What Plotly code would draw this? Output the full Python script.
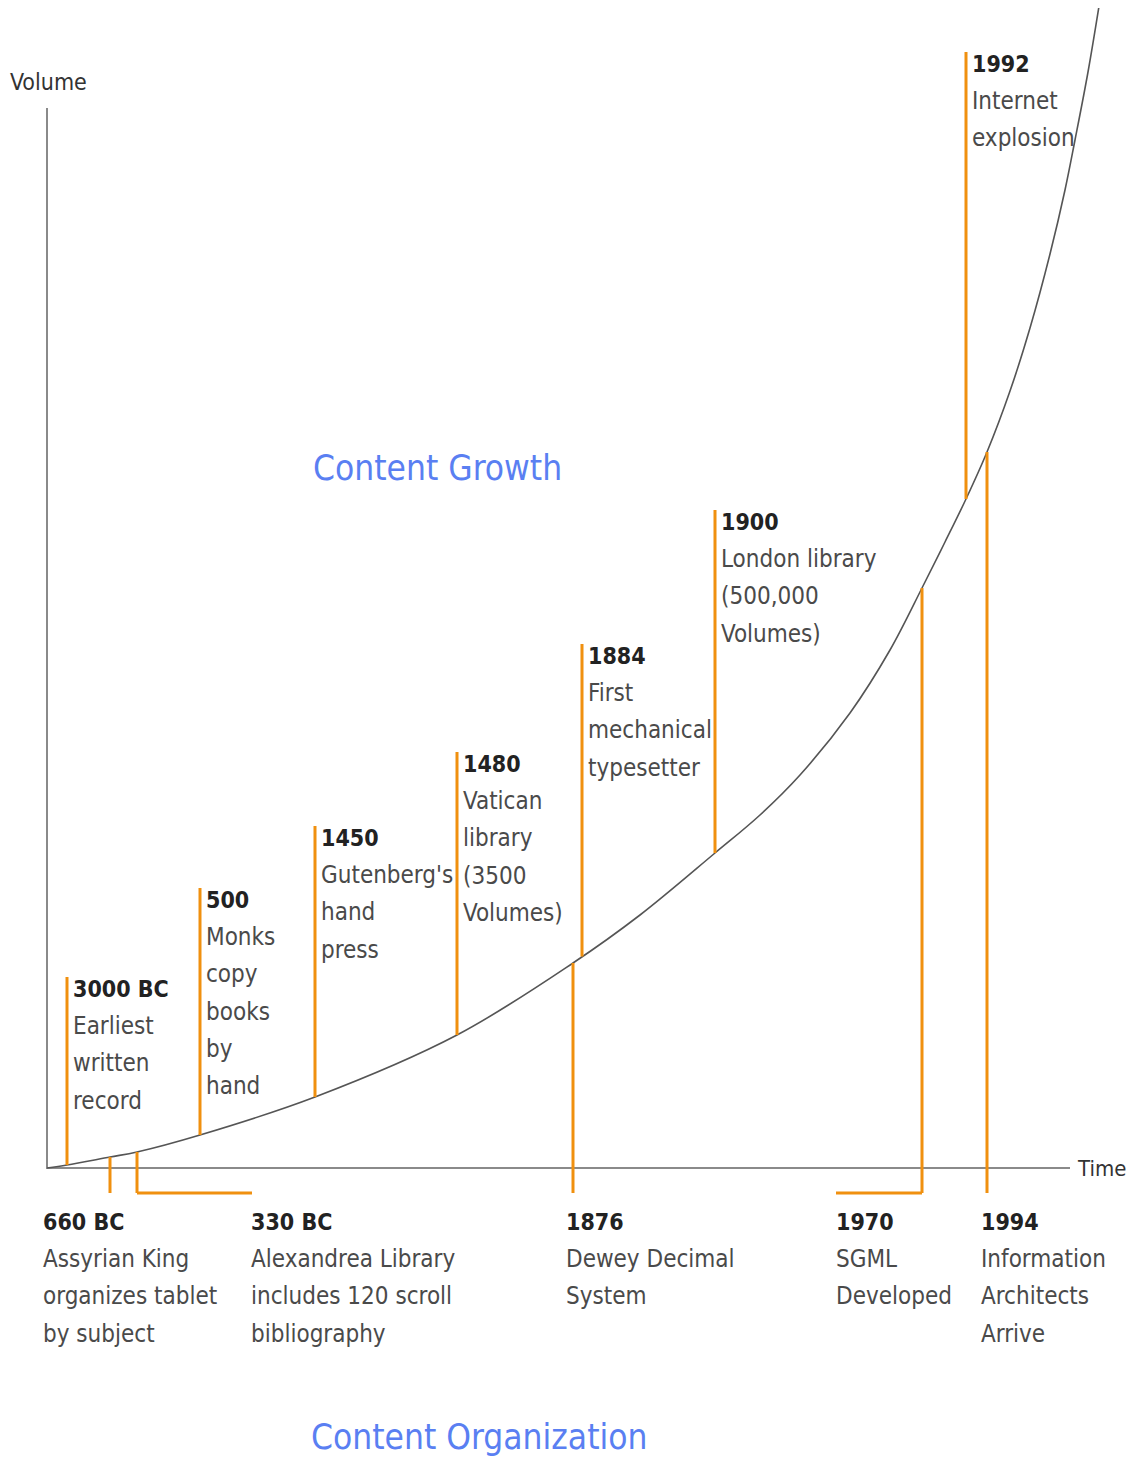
import numpy as np
import plotly.graph_objects as go

# Growth curve (pixel space of the diagram)
curve_x = [47, 67, 110, 137, 200, 315, 457, 573, 640, 715, 760, 800, 850, 890, 922, 945, 966, 987,
           1010, 1030, 1050, 1065, 1075, 1088, 1100]
curve_y = [1168, 1165, 1157, 1152, 1135, 1097, 1035, 963, 915, 853, 815, 775, 713, 650, 588, 542, 499, 452,
           391, 328, 254, 190, 140, 72, 0]

# Content growth events (above the curve)
top_years = ["3000 BC", "500", "1450", "1480", "1884", "1900", "1992"]
top_texts = [
    ["Earliest", "written", "record"],
    ["Monks", "copy", "books", "by", "hand"],
    ["Gutenberg's", "hand", "press"],
    ["Vatican", "library", "(3500", "Volumes)"],
    ["First", "mechanical", "typesetter"],
    ["London library", "(500,000", "Volumes)"],
    ["Internet", "explosion"],
]
top_x = [67, 200, 315, 457, 582, 715, 966]
top_y = [977, 888, 826, 752, 644, 510, 52]

# Content organization events (below the axis)
bot_years = ["660 BC", "330 BC", "1876", "1970", "1994"]
bot_texts = [
    ["Assyrian King", "organizes tablet", "by subject"],
    ["Alexandrea Library", "includes 120 scroll", "bibliography"],
    ["Dewey Decimal", "System"],
    ["SGML", "Developed"],
    ["Information", "Architects", "Arrive"],
]
bot_x = [110, 137, 573, 922, 987]
bot_label_x = [43, 251, 566, 836, 981]

ORANGE = "#f0900f"
FONT = "DejaVu Sans Condensed, DejaVu Sans, sans-serif"
BLUE = "#5a7ff2"
STEP = 37.2
BOT = 1193

def tfont(size, color, weight="normal"):
    return dict(family=FONT, size=size, color=color, weight=weight)

fig = go.Figure()

# axes
fig.add_trace(go.Scatter(x=[47, 47, 1070], y=[108, 1168, 1168], mode="lines",
                         line=dict(color="#8a8a8a", width=2), hoverinfo="skip", showlegend=False))

# curve
fig.add_trace(go.Scatter(x=curve_x, y=curve_y, mode="lines",
                         line=dict(color="#555555", width=1.6, shape="spline", smoothing=1.0),
                         hoverinfo="skip", showlegend=False))

shapes = []
annotations = []

def curve_at(x):
    return float(np.interp(x, curve_x, curve_y))

def label(x, y_first, year, lines):
    annotations.append(dict(x=x, y=y_first, xref="x", yref="y", xanchor="left", yanchor="middle",
                            showarrow=False, text=year, font=tfont(23, "#222222", "bold")))
    for k, ln in enumerate(lines):
        annotations.append(dict(x=x, y=y_first + STEP * (k + 1), xref="x", yref="y",
                                xanchor="left", yanchor="middle", showarrow=False,
                                text=ln, font=tfont(24, "#4a4a4a")))

for yr, tx, x, y in zip(top_years, top_texts, top_x, top_y):
    shapes.append(dict(type="line", xref="x", yref="y", x0=x, x1=x, y0=y, y1=curve_at(x),
                       line=dict(color=ORANGE, width=3)))
    label(x + 4, y + 12, yr, tx)

for yr, tx, x, lx in zip(bot_years, bot_texts, bot_x, bot_label_x):
    shapes.append(dict(type="line", xref="x", yref="y", x0=x, x1=x, y0=curve_at(x), y1=BOT,
                       line=dict(color=ORANGE, width=3)))
    if yr == "330 BC":
        shapes.append(dict(type="line", xref="x", yref="y", x0=x, x1=252, y0=BOT, y1=BOT,
                           line=dict(color=ORANGE, width=3)))
    if yr == "1970":
        shapes.append(dict(type="line", xref="x", yref="y", x0=836, x1=x, y0=BOT, y1=BOT,
                           line=dict(color=ORANGE, width=3)))
    label(lx - 2, 1222, yr, tx)

annotations += [
    dict(x=8, y=82, xref="x", yref="y", xanchor="left", yanchor="middle", showarrow=False,
         text="Volume", font=tfont(23, "#333333")),
    dict(x=1075, y=1168, xref="x", yref="y", xanchor="left", yanchor="middle", showarrow=False,
         text="Time", font=tfont(22, "#333333")),
    dict(x=311, y=468, xref="x", yref="y", xanchor="left", yanchor="middle", showarrow=False,
         text="Content Growth", font=tfont(35, BLUE)),
    dict(x=309, y=1437, xref="x", yref="y", xanchor="left", yanchor="middle", showarrow=False,
         text="Content Organization", font=tfont(35, BLUE)),
]

# the page body has an 8px margin, so the figure starts at (8, 8) in the window
fig.update_layout(
    width=1126, height=1450, margin=dict(l=0, r=0, t=0, b=0),
    paper_bgcolor="white", plot_bgcolor="white",
    xaxis=dict(range=[8, 1134], visible=False, fixedrange=True),
    yaxis=dict(range=[1458, 8], visible=False, fixedrange=True),
    shapes=shapes, annotations=annotations, showlegend=False,
)

fig.write_html("out.html")
